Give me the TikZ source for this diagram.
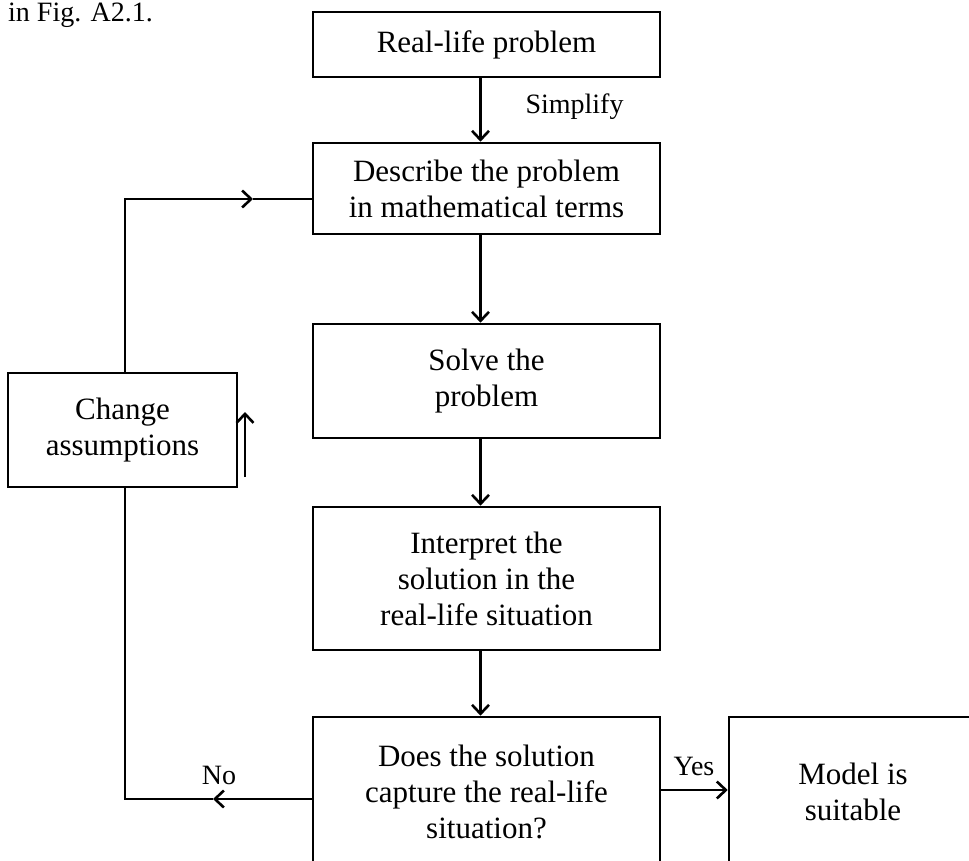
\documentclass[tikz,border=0pt]{standalone}
\usepackage{fontspec}
\setmainfont{Liberation Serif}
\usetikzlibrary{arrows.meta}
\tikzset{
  box/.style={draw=black,line width=2.6pt,rectangle,align=center,inner sep=0pt,
    font=\fontsize{31}{36}\selectfont},
  lbl/.style={inner sep=0pt,font=\fontsize{28}{32}\selectfont},
  wire/.style={draw=black,line width=2.6pt},
  flow/.style={wire,-{Straight Barb[length=9pt,width=17pt]}}
}
\begin{document}
\begin{tikzpicture}[x=1pt,y=1pt]
\useasboundingbox (0,-860) rectangle (969,0);
% text left over from the page:
\node[anchor=base west,inner sep=0pt,font=\fontsize{28}{32}\selectfont] (figref) at (8,-21) {in Fig. A2.1.};
% boxes:
\node[box,minimum width=347pt,minimum height=65pt] (real) at (486.5,-44.5) {Real-life problem};
\node[box,minimum width=347pt,minimum height=91pt] (desc) at (486.5,-188.5) {Describe the problem\\in mathematical terms};
\node[box,minimum width=347pt,minimum height=114pt] (solve) at (486.5,-381) {Solve the\\problem};
\node[box,minimum width=347pt,minimum height=143pt] (interp) at (486.5,-578.5) {Interpret the\\solution in the\\real-life situation};
\node[box,minimum width=347pt,minimum height=150pt] (does) at (486.5,-792) {Does the solution\\capture the real-life\\situation?};
\node[box,minimum width=248pt,minimum height=150pt] (model) at (853,-792) {Model is\\suitable};
\node[box,minimum width=229pt,minimum height=114pt] (change) at (122.5,-430) {Change\\assumptions};
% labels:
\node[lbl] (simplify) at (574.5,-107) {Simplify};
\node[lbl] (yes) at (694,-766) {Yes};
\node[lbl] (no) at (219,-775) {No};
% main chain:
\path[flow] ([xshift=-6pt]real.south) -- ([xshift=-6pt]desc.north);
\path[flow] ([xshift=-6pt]desc.south) -- ([xshift=-6pt]solve.north);
\path[flow] ([xshift=-6pt]solve.south) -- ([xshift=-6pt]interp.north);
\path[flow] ([xshift=-6pt]interp.south) -- ([xshift=-6pt]does.north);
\path[flow] ([yshift=2pt]does.east) -- ([yshift=2pt]model.west);
% loop back:
\coordinate (noarr) at (213,-799);
\coordinate (nobend) at (125,-799);
\coordinate (upbend) at (125,-199);
\coordinate (uparr) at (253,-199);
\path[flow] ([yshift=-7pt]does.west) -- (noarr);
\path[wire] (noarr) -- (nobend) -- (nobend |- change.south);
\path[flow] (nobend |- change.north) -- (upbend) -- (uparr);
\path[wire] (uparr) -- (uparr -| desc.west);
% small arrow beside the box:
\coordinate (sidelow) at (245,-477);
\coordinate (sidetop) at (245,-412);
\path[flow] (sidelow) -- (sidetop);
\end{tikzpicture}
\end{document}
